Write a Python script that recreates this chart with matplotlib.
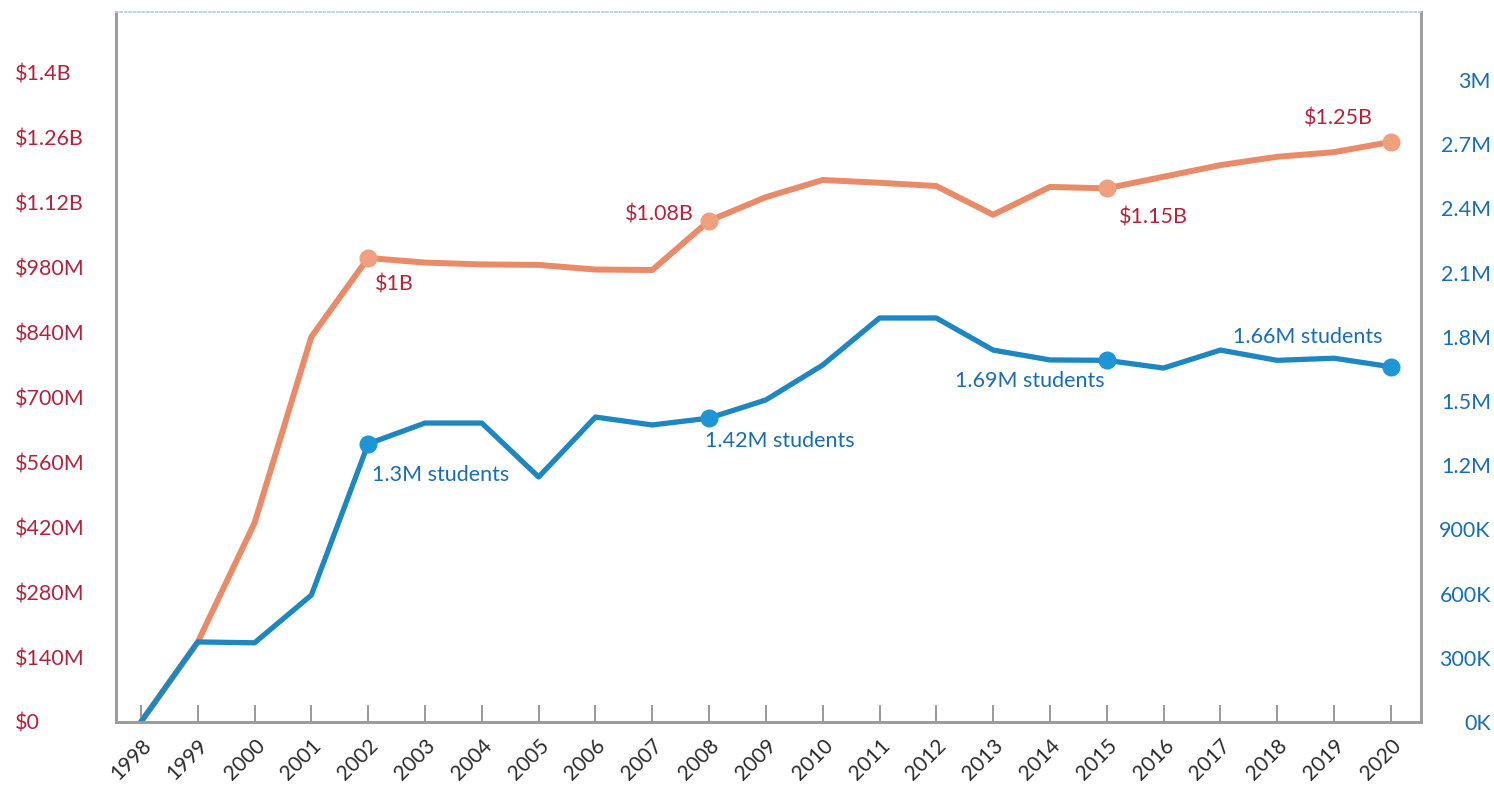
import matplotlib
matplotlib.use('Agg')
import matplotlib.pyplot as plt

plt.rcParams['font.family'] = ['Lato', 'DejaVu Sans']

# Données annuelles
years = list(range(1998, 2021))
funding = [0, 0.172e9, 0.429e9, 0.830e9, 1.0e9, 0.99e9, 0.986e9, 0.985e9, 0.975e9, 0.974e9,
           1.08e9, 1.131e9, 1.168e9, 1.162e9, 1.155e9, 1.093e9, 1.153e9, 1.15e9, 1.175e9,
           1.20e9, 1.218e9, 1.228e9, 1.25e9]
students = [0, 0.374e6, 0.37e6, 0.593e6, 1.3e6, 1.397e6, 1.397e6, 1.145e6, 1.425e6, 1.388e6,
            1.42e6, 1.505e6, 1.668e6, 1.888e6, 1.888e6, 1.738e6, 1.692e6, 1.69e6, 1.654e6,
            1.738e6, 1.69e6, 1.70e6, 1.66e6]

left_ticks = [0, 140e6, 280e6, 420e6, 560e6, 700e6, 840e6, 980e6, 1.12e9, 1.26e9, 1.4e9]
left_labels = ['$0', '$140M', '$280M', '$420M', '$560M', '$700M', '$840M', '$980M',
               '$1.12B', '$1.26B', '$1.4B']
right_ticks = [0, 300e3, 600e3, 900e3, 1.2e6, 1.5e6, 1.8e6, 2.1e6, 2.4e6, 2.7e6, 3e6]
right_labels = ['0K', '300K', '600K', '900K', '1.2M', '1.5M', '1.8M', '2.1M', '2.4M', '2.7M', '3M']

# Points annotés : (année, texte, décalage x, décalage y, alignement)
funding_notes = [(2002, '$1B', 7, -27, 'left'), (2008, '$1.08B', -15, 6, 'right'),
                 (2015, '$1.15B', 12, -29, 'left'), (2020, '$1.25B', -18, 23, 'right')]
student_notes = [(2002, '1.3M students', 4, -31, 'left'), (2008, '1.42M students', -4, -23, 'left'),
                 (2015, '1.69M students', -2, -21, 'right'), (2020, '1.66M students', -8, 30, 'right')]

ORANGE = '#E98A68'
BLUE = '#1E87C2'
RED_TXT = '#B0243E'
BLUE_TXT = '#1A6DB3'
GRIS = '#9C9C9C'

fig = plt.figure(figsize=(14.94, 7.85), dpi=100)
ax1 = fig.add_axes([0.0776, 0.0803, 0.8735, 0.9044])
ax2 = ax1.twinx()

# Axe gauche : financement
ax1.plot(years, funding, color=ORANGE, linewidth=4.3, solid_joinstyle='round')
for yr, txt, dx, dy, ha in funding_notes:
    v = funding[years.index(yr)]
    ax1.plot(yr, v, 'o', color='#F0A07E', markersize=12, zorder=5)
    ax1.annotate(txt, (yr, v), xytext=(dx, dy), textcoords='offset pixels',
                 ha=ha, va='center', color=RED_TXT, fontsize=15.5)

# Axe droit : étudiants
ax2.plot(years, students, color=BLUE, linewidth=3.8, solid_joinstyle='round')
for yr, txt, dx, dy, ha in student_notes:
    v = students[years.index(yr)]
    ax2.plot(yr, v, 'o', color='#1E96D6', markersize=12, zorder=5)
    ax2.annotate(txt, (yr, v), xytext=(dx, dy), textcoords='offset pixels',
                 ha=ha, va='center', color=BLUE_TXT, fontsize=15.5)

ax1.set_xlim(1997.56, 2020.53)
ax1.set_ylim(0, 1.530e9)
ax2.set_ylim(0, 3.318e6)

ax1.set_xticks(years)
ax1.set_xticklabels([str(y) for y in years], rotation=45, ha='right',
                    rotation_mode='anchor', fontsize=15, color='#2b2b2b')
ax1.tick_params(axis='x', direction='in', length=12, width=1.2, color='#888888', pad=10)

# pad en points : 72.7 pt ~ 101 px à 100 dpi
ax1.set_yticks(left_ticks)
ax1.set_yticklabels(left_labels, fontsize=15.5, color=RED_TXT, ha='left')
ax1.tick_params(axis='y', length=0, pad=72.7)

ax2.set_yticks(right_ticks)
ax2.set_yticklabels(right_labels, fontsize=15.5, color=BLUE_TXT, ha='right')
ax2.tick_params(axis='y', length=0, pad=50.4)

for ax in (ax1, ax2):
    for side in ('left', 'right', 'bottom'):
        ax.spines[side].set_color(GRIS)
        ax.spines[side].set_linewidth(2)
    ax.spines['top'].set_color('#B9D6E6')
    ax.spines['top'].set_linestyle(':')
    ax.spines['top'].set_linewidth(1.2)

plt.savefig('out.png', dpi=100, facecolor='white')
